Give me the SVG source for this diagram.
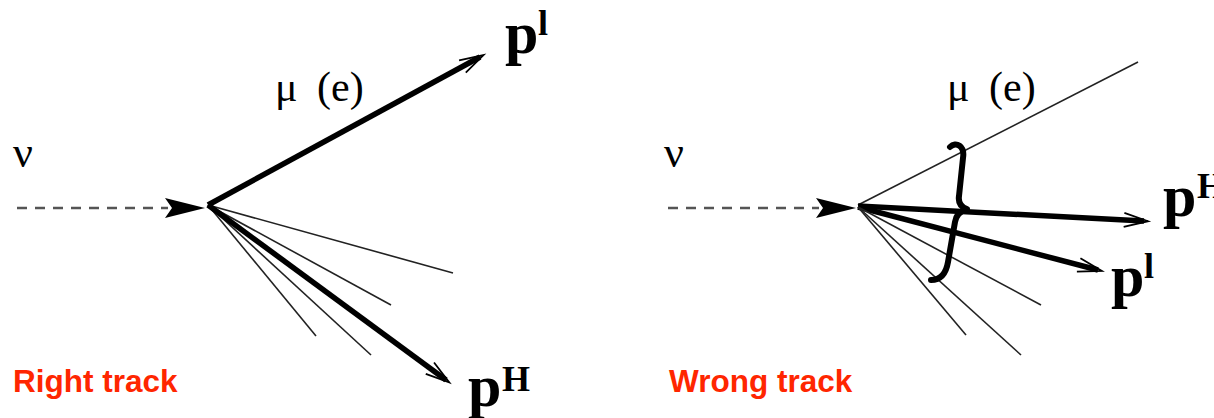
<svg xmlns="http://www.w3.org/2000/svg" width="1214" height="418" viewBox="0 0 1214 418">
<style>
.thick{stroke:#000;stroke-width:5.5;fill:none;stroke-linecap:butt}
.thin{stroke:#222;stroke-width:1.6;fill:none}
.dash{stroke:#555;stroke-width:2.5;stroke-dasharray:10 8;fill:none}
.greek{font-family:"Liberation Serif",serif;font-size:42px;fill:#000}
.nu{font-family:"Liberation Serif",serif;font-size:44px;fill:#000}
.p{font-family:"Liberation Serif",serif;font-weight:bold;font-size:60px;fill:#000}
.sup{font-family:"Liberation Serif",serif;font-weight:bold;font-size:36px;fill:#000}
.red{font-family:"Liberation Sans",Arial,sans-serif;font-weight:bold;font-size:31.5px;fill:#ff2600}
.brace{stroke:#000;stroke-width:6;fill:none;stroke-linecap:round;stroke-linejoin:round}
</style>
<defs>
<marker id="open" markerUnits="userSpaceOnUse" orient="auto" refX="-4" refY="0" markerWidth="30" markerHeight="30" overflow="visible">
<path d="M-24,-7 L0,0 L-24,7" stroke="#000" stroke-width="1.8" fill="none"/>
</marker>
</defs>
<g id="connectors">
<line class="dash" x1="17" y1="208" x2="168" y2="208"/>
<path d="M165,198 L205,208 L165,218 L172,208 Z" fill="#000"/>
<line class="thick" x1="208" y1="205" x2="480" y2="57" marker-end="url(#open)"/>
<line class="thin" x1="208" y1="205" x2="453" y2="273"/>
<line class="thin" x1="208" y1="205" x2="391" y2="305"/>
<line class="thin" x1="208" y1="205" x2="316" y2="336"/>
<line class="thin" x1="208" y1="205" x2="371" y2="355"/>
<line class="thick" x1="208" y1="205" x2="446" y2="380" marker-end="url(#open)"/>
<line class="dash" x1="668" y1="208" x2="819" y2="208"/>
<path d="M816,198 L856,208 L816,218 L823,208 Z" fill="#000"/>
<line class="thin" x1="858" y1="205" x2="1138" y2="62"/>
<line class="thick" x1="858" y1="206" x2="1144" y2="221" marker-end="url(#open)"/>
<line class="thick" x1="858" y1="207" x2="1098" y2="270" marker-end="url(#open)"/>
<line class="thin" x1="858" y1="207" x2="1041" y2="305"/>
<line class="thin" x1="858" y1="207" x2="966" y2="335"/>
<line class="thin" x1="858" y1="207" x2="1021" y2="355"/>
<path class="brace" d="M950,147 C956,141 965,146 963,158 L959,196 C958,203 961,207 967,209 C960,211 956,216 955,222 L948,262 C946,274 940,280 931,280"/>
</g>
<g id="left-nu"><text class="nu" x="13" y="167">ν</text></g>
<g id="left-mu"><text class="greek" y="101"><tspan x="275">μ</tspan><tspan x="317">(e)</tspan></text></g>
<g id="left-pl"><text class="p" x="505" y="53">p</text><text class="sup" x="538" y="35">l</text></g>
<g id="left-pH"><text class="p" x="468" y="406">p</text><text class="sup" x="502" y="391">H</text></g>
<g id="left-label"><text class="red" x="13" y="392">Right track</text></g>
<g id="right-nu"><text class="nu" x="664" y="167">ν</text></g>
<g id="right-mu"><text class="greek" y="101"><tspan x="947">μ</tspan><tspan x="989">(e)</tspan></text></g>
<g id="right-pH"><text class="p" x="1163" y="216">p</text><text class="sup" x="1197" y="198">H</text></g>
<g id="right-pl"><text class="p" x="1111" y="296">p</text><text class="sup" x="1144" y="278">l</text></g>
<g id="right-label"><text class="red" x="669" y="392">Wrong track</text></g>
</svg>
